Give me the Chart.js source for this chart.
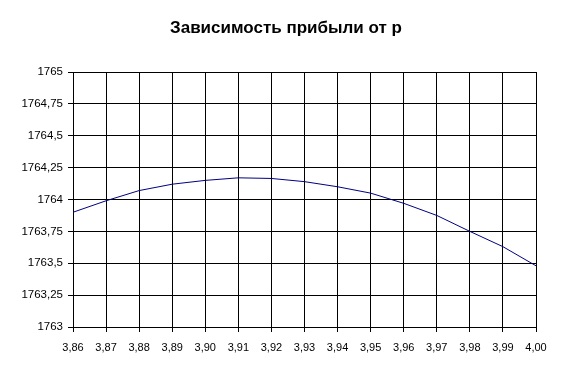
<!DOCTYPE html>
<html>
<head>
<meta charset="utf-8">
<script src="https://cdn.jsdelivr.net/npm/chart.js@4"></script>
<style>
  body { margin: 0; background: #fff; }
  #caixa { position: relative; width: 565px; height: 375px; }
  #titulo {
    position: absolute; left: 0; top: 18px; width: 572px;
    text-align: center; font: bold 17px "Liberation Sans", Arial, sans-serif;
    line-height: 20px; color: #000;
  }
</style>
</head>
<body>
<div id="caixa">
  <canvas id="grafico" width="565" height="375"></canvas>
  <div id="titulo">Зависимость прибыли от p</div>
</div>
<script>
const valoresP = ['3,86', '3,87', '3,88', '3,89', '3,90', '3,91', '3,92', '3,93',
    '3,94', '3,95', '3,96', '3,97', '3,98', '3,99', '4,00'];
const pribyl = [1763.90, 1763.99, 1764.07, 1764.12, 1764.15, 1764.17, 1764.165, 1764.14,
    1764.10, 1764.05, 1763.97, 1763.875, 1763.75, 1763.63, 1763.48];

const fonteX = { family: '"Liberation Sans", Arial, sans-serif', size: 11 };
const fonteY = { family: '"Liberation Sans", Arial, sans-serif', size: 11.5 };

window.onload = () => {
    const contexto = document.getElementById('grafico');
    new Chart(contexto, {
        type: 'line',
        data: {
            labels: valoresP,
            datasets: [{
                data: pribyl,
                borderColor: '#000080',
                borderWidth: 1,
                pointRadius: 0,
                tension: 0,
                fill: false
            }]
        },
        options: {
            responsive: false,
            animation: false,
            layout: { padding: { left: 0, right: 29, top: 72, bottom: 0 } },
            plugins: {
                legend: { display: false },
                tooltip: { enabled: false },
                title: { display: false }
            },
            scales: {
                x: {
                    offset: false,
                    grid: { color: '#000', lineWidth: 1, tickLength: 5, tickColor: '#000' },
                    border: { color: '#000' },
                    ticks: { color: '#000', font: fonteX, padding: 9, maxRotation: 0, autoSkip: false },
                    afterFit: escala => { escala.height = 48; }
                },
                y: {
                    min: 1763,
                    max: 1765,
                    grid: { color: '#000', lineWidth: 1, tickLength: 5, tickColor: '#000' },
                    border: { color: '#000' },
                    ticks: {
                        stepSize: 0.25,
                        color: '#000',
                        font: fonteY,
                        padding: 5,
                        callback: v => String(v).replace('.', ',')
                    },
                    afterFit: escala => { escala.width = 73; }
                }
            }
        }
    });
}
</script>
</body>
</html>
